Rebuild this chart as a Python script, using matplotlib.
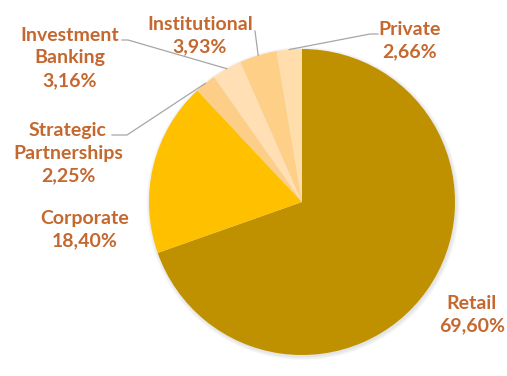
import numpy as np
import matplotlib
matplotlib.use("Agg")
import matplotlib.pyplot as plt
from matplotlib.patches import Circle

categories = ["Retail", "Corporate", "Strategic\nPartnerships", "Investment\nBanking", "Institutional", "Private"]
values = [69.60, 18.40, 2.25, 3.16, 3.93, 2.66]
colors = ["#BF9000", "#FFC000", "#FDCE88", "#FFDFB3", "#FECF86", "#FFDEAC"]

W, H = 507, 376
fig = plt.figure(figsize=(W / 100, H / 100), dpi=100)
ax = fig.add_axes([0, 0, 1, 1])
ax.set_xlim(0, W)
ax.set_ylim(0, H)
ax.set_aspect("equal")
ax.axis("off")

cx, cy, r = 302, H - 202, 153

# soft shadow
for k, a in enumerate([0.05, 0.05, 0.05, 0.06]):
    ax.add_patch(Circle((cx + 1.0, cy - 1.5), r + 3.5 - k, color="#7f7f7f", alpha=a, lw=0, zorder=0))

wedges, _ = ax.pie(values, colors=colors, startangle=90, counterclock=False,
                   center=(cx, cy), radius=r, frame=True,
                   wedgeprops=dict(linewidth=0))
ax.set_xlim(0, W)
ax.set_ylim(0, H)
ax.axis("off")

txt_color = "#C4682F"
line_color = "#A6A6A6"
font = dict(fontsize=14, fontweight="bold", color=txt_color, family=["Lato", "DejaVu Sans"],
            ha="center", va="center", linespacing=1.38)

# label centers (image pixel coords) and leader line ends
label_pos = {
    0: (472, 315, None),
    1: (85, 230, None),
    2: (68, 153, [(127, 135), (112, 135)]),
    3: (70, 58, [(128, 40), (122, 40)]),
    4: (200, 36, [(255, 31)]),
    5: (410, 41, [(370, 34), (378, 34)]),
}

for i, w in enumerate(wedges):
    lab = categories[i] + "\n" + f"{values[i]:.2f}".replace(".", ",") + "%"
    x, y, pts = label_pos[i]
    ax.text(x, H - y, lab, **font)
    if pts:
        ang = np.deg2rad((w.theta1 + w.theta2) / 2)
        sx, sy = cx + r * np.cos(ang), cy + r * np.sin(ang)
        xs = [sx] + [p[0] for p in pts]
        ys = [sy] + [H - p[1] for p in pts]
        ax.plot(xs, ys, color=line_color, lw=0.9, zorder=3)

fig.savefig("out.png", dpi=100)
